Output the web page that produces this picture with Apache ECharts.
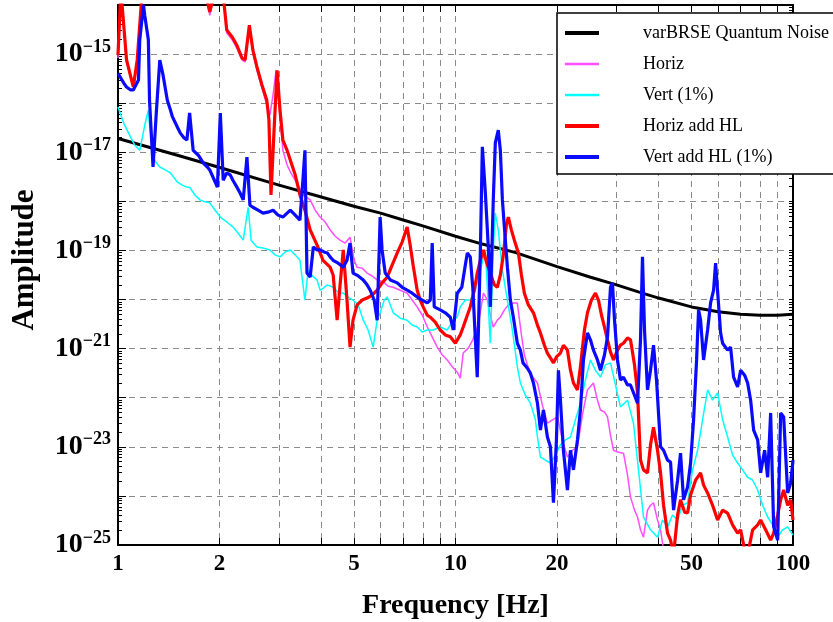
<!DOCTYPE html>
<html>
<head>
<meta charset="utf-8">
<script src="https://cdn.jsdelivr.net/npm/echarts@6/dist/echarts.min.js"></script>
<style>
    html, body { margin: 0; padding: 0; background: #fff; }
    #chart { width: 833px; height: 622px; }
</style>
</head>
<body>
<div id="chart"></div>
<script>
// each point is [frequency in Hz, log10 of amplitude]
const quantumNoise = [[1,-16.72],[1.5,-17.06],[2,-17.31],[3,-17.67],[4,-17.91],[5,-18.10],[6,-18.24],[7,-18.38],[8,-18.50],[10,-18.71],[12,-18.87],[15,-19.04],[20,-19.33],[25,-19.54],[30,-19.70],[35,-19.85],[40,-19.97],[50,-20.15],[60,-20.25],[70,-20.30],[80,-20.32],[90,-20.32],[100,-20.30]]

const horiz = [[1.00,-15.08],[1.02,-13.7],[1.06,-15.16],[1.11,-15.63],[1.14,-15.16],[1.18,-13.7],[1.48,-13.7],[1.81,-13.7],[1.87,-14.21],[1.94,-13.7],[2.06,-13.96],[2.10,-14.57],[2.18,-14.71],[2.25,-14.88],[2.33,-15.12],[2.38,-15.16],[2.45,-14.47],[2.51,-14.96],[2.58,-15.33],[2.67,-15.69],[2.76,-16.04],[2.82,-16.24],[2.88,-15.83],[2.94,-15.33],[3.00,-16.04],[3.08,-16.96],[3.17,-17.26],[3.24,-17.40],[3.39,-17.63],[3.54,-17.87],[3.71,-17.97],[3.84,-18.18],[3.97,-18.32],[4.11,-18.42],[4.25,-18.58],[4.40,-18.71],[4.55,-18.79],[4.71,-18.85],[4.87,-18.73],[5.01,-19.20],[5.11,-19.34],[5.29,-19.36],[5.47,-19.46],[5.66,-19.52],[5.86,-19.60],[6.11,-19.64],[6.32,-19.73],[6.54,-19.75],[6.86,-19.81],[7.19,-19.87],[7.44,-20.01],[7.70,-20.15],[7.97,-20.32],[8.25,-20.56],[8.53,-20.76],[8.83,-20.97],[9.14,-21.13],[9.45,-21.23],[9.78,-21.37],[10.12,-21.48],[10.33,-21.60],[10.54,-21.09],[10.91,-20.99],[11.25,-20.82],[11.68,-20.52],[12.10,-19.87],[12.43,-20.01],[12.68,-20.32],[12.94,-20.56],[13.30,-20.42],[13.58,-20.36],[13.96,-20.21],[14.34,-20.11],[14.84,-20.07],[15.25,-20.07],[15.68,-20.72],[16.00,-21.13],[16.33,-21.33],[16.78,-21.54],[17.49,-21.70],[18.09,-22.15],[18.72,-22.52],[19.37,-22.45],[20.05,-22.39],[20.74,-22.86],[21.46,-23.21],[22.21,-23.07],[22.98,-23.00],[23.77,-22.35],[24.60,-21.84],[25.63,-21.70],[26.34,-22.05],[26.89,-22.25],[27.63,-22.29],[28.21,-22.39],[28.79,-22.76],[29.39,-23.07],[30.41,-23.11],[31.46,-23.13],[32.33,-23.57],[33.00,-24.02],[33.91,-24.29],[34.62,-24.43],[35.33,-24.69],[36.06,-24.84],[37.06,-24.29],[37.83,-24.19],[38.61,-24.14],[39.68,-24.49],[40.51,-24.69],[41.35,-25.10],[42.49,-25.51],[46.43,-25.6],[53.23,-25.7],[74.90,-25.8],[100,-25.8]]

const vert = [[1.00,-16.08],[1.04,-16.41],[1.09,-16.69],[1.12,-16.85],[1.16,-16.96],[1.20,-16.45],[1.23,-16.14],[1.24,-16.45],[1.27,-17.10],[1.30,-17.22],[1.33,-17.30],[1.38,-17.36],[1.43,-17.42],[1.50,-17.61],[1.55,-17.67],[1.60,-17.71],[1.63,-17.71],[1.69,-17.87],[1.75,-17.97],[1.81,-18.01],[1.87,-18.03],[1.94,-18.18],[2.01,-18.32],[2.10,-18.42],[2.19,-18.52],[2.27,-18.65],[2.35,-18.79],[2.43,-18.12],[2.48,-18.79],[2.58,-18.93],[2.69,-18.95],[2.82,-18.99],[2.92,-19.09],[3.02,-19.13],[3.13,-19.03],[3.24,-18.99],[3.35,-19.09],[3.46,-19.20],[3.58,-20.01],[3.66,-19.40],[3.79,-19.54],[3.89,-19.60],[3.97,-19.81],[4.05,-19.77],[4.17,-19.70],[4.34,-19.75],[4.49,-19.85],[4.65,-19.87],[4.81,-19.95],[4.97,-20.01],[5.15,-20.11],[5.33,-20.42],[5.51,-20.62],[5.70,-20.97],[5.86,-20.42],[5.98,-20.27],[6.15,-20.01],[6.28,-19.95],[6.54,-20.27],[6.86,-20.38],[7.19,-20.42],[7.44,-20.52],[7.70,-20.56],[7.97,-20.66],[8.25,-20.62],[8.59,-20.62],[9.01,-20.56],[9.45,-20.62],[9.85,-20.42],[10.12,-20.36],[10.33,-20.15],[10.69,-20.01],[11.06,-20.01],[11.44,-19.81],[11.85,-19.40],[12.26,-18.99],[12.68,-20.89],[12.94,-18.99],[13.12,-18.24],[13.39,-18.58],[13.77,-19.40],[14.25,-20.01],[14.74,-20.62],[15.25,-21.37],[15.57,-21.70],[16.11,-21.95],[16.67,-22.11],[17.25,-22.45],[17.49,-22.80],[17.85,-23.21],[18.47,-23.27],[19.11,-23.33],[19.77,-23.17],[20.46,-22.96],[21.17,-22.86],[21.91,-22.80],[22.67,-22.45],[23.45,-22.11],[24.26,-21.64],[25.11,-21.23],[25.98,-21.44],[26.89,-21.58],[27.82,-21.33],[28.79,-21.29],[29.79,-21.74],[30.82,-22.19],[32.33,-22.05],[33.68,-22.52],[34.85,-23.47],[36.06,-24.43],[37.83,-24.69],[39.68,-24.84],[41.06,-24.49],[42.49,-24.63],[43.96,-24.39],[45.50,-24.49],[47.07,-24.19],[48.71,-24.14],[50.40,-23.47],[52.16,-23.07],[53.96,-22.45],[55.84,-21.84],[57.77,-22.05],[59.78,-21.90],[61.86,-22.45],[64.01,-22.80],[66.22,-23.17],[68.53,-23.33],[70.91,-23.47],[73.38,-23.62],[75.93,-23.68],[78.57,-23.88],[81.29,-24.19],[84.12,-24.43],[87.04,-24.59],[90.07,-24.84],[93.19,-24.69],[96.43,-24.63],[100,-24.80]]

const horizHL = [[1.00,-15.02],[1.02,-13.7],[1.06,-15.12],[1.11,-15.67],[1.14,-15.12],[1.18,-13.7],[1.48,-13.7],[1.81,-13.7],[1.87,-14.14],[1.94,-13.7],[2.06,-13.95],[2.10,-14.51],[2.18,-14.65],[2.25,-14.82],[2.33,-15.08],[2.38,-15.12],[2.45,-14.41],[2.51,-14.92],[2.58,-15.26],[2.67,-15.63],[2.76,-15.94],[2.80,-16.34],[2.84,-17.87],[2.90,-16.55],[2.96,-15.33],[3.02,-16.14],[3.08,-16.75],[3.17,-16.96],[3.24,-17.16],[3.35,-17.46],[3.46,-17.87],[3.58,-18.18],[3.71,-18.58],[3.89,-18.89],[4.05,-19.20],[4.25,-19.34],[4.34,-19.50],[4.46,-20.42],[4.55,-19.70],[4.65,-18.99],[4.77,-20.01],[4.87,-20.97],[4.97,-20.42],[5.11,-20.11],[5.29,-20.01],[5.47,-19.97],[5.66,-19.91],[5.86,-19.81],[6.06,-19.66],[6.28,-19.54],[6.49,-19.30],[6.72,-19.05],[6.95,-18.83],[7.19,-18.52],[7.34,-18.89],[7.49,-19.30],[7.70,-19.81],[7.86,-20.01],[8.02,-20.15],[8.25,-20.32],[8.42,-20.36],[8.71,-20.46],[9.01,-20.62],[9.33,-20.72],[9.65,-20.76],[9.99,-20.89],[10.33,-20.72],[10.54,-20.56],[10.84,-20.32],[11.06,-20.15],[11.37,-19.81],[11.60,-19.46],[11.85,-19.20],[12.10,-18.99],[12.35,-19.24],[12.68,-19.46],[13.03,-19.70],[13.30,-19.75],[13.58,-19.50],[13.86,-19.09],[14.15,-18.48],[14.34,-18.32],[14.64,-18.58],[14.94,-18.79],[15.36,-19.05],[15.68,-19.50],[16.00,-19.87],[16.44,-20.11],[17.02,-20.27],[17.49,-20.52],[17.85,-20.68],[18.34,-20.93],[18.72,-21.09],[19.11,-21.19],[19.51,-21.29],[19.91,-21.17],[20.46,-21.09],[20.88,-20.93],[21.46,-21.03],[21.91,-21.44],[22.36,-21.70],[22.98,-21.84],[23.45,-21.37],[24.10,-20.62],[24.60,-20.27],[25.28,-20.01],[25.98,-19.87],[26.52,-20.01],[27.08,-20.32],[27.45,-20.48],[28.21,-20.82],[28.79,-21.07],[29.39,-21.23],[30.20,-21.03],[30.82,-20.93],[31.46,-20.89],[32.33,-20.78],[33.00,-20.82],[33.91,-21.33],[34.62,-21.90],[35.33,-23.27],[36.06,-23.47],[37.06,-23.53],[37.83,-22.96],[38.61,-22.60],[39.68,-23.07],[40.51,-23.53],[41.35,-24.19],[42.49,-24.76],[43.37,-24.90],[44.27,-25.2],[45.50,-24.39],[46.43,-24.08],[47.72,-24.33],[48.71,-24.35],[49.72,-23.98],[51.45,-23.68],[53.23,-23.53],[54.33,-23.78],[55.84,-23.94],[57.77,-24.19],[59.78,-24.49],[61.86,-24.29],[64.01,-24.35],[66.22,-24.59],[68.53,-24.76],[69.95,-24.69],[71.89,-25.1],[73.38,-25.2],[75.93,-24.69],[78.57,-24.59],[80.19,-24.49],[82.97,-24.69],[85.86,-24.90],[87.64,-24.76],[90.07,-24.39],[91.93,-24.08],[93.83,-23.88],[96.43,-24.19],[98.42,-24.08],[100,-24.49]]

const vertHL = [[1.00,-15.39],[1.01,-15.43],[1.04,-15.59],[1.06,-15.67],[1.09,-15.73],[1.11,-15.73],[1.13,-15.63],[1.15,-15.53],[1.16,-14.71],[1.19,-14.00],[1.20,-14.21],[1.23,-14.71],[1.24,-15.94],[1.27,-17.30],[1.30,-16.14],[1.33,-15.12],[1.36,-15.43],[1.40,-15.94],[1.43,-16.14],[1.45,-16.28],[1.50,-16.49],[1.53,-16.61],[1.57,-16.71],[1.60,-16.75],[1.63,-16.20],[1.67,-16.96],[1.73,-17.06],[1.79,-17.22],[1.84,-17.30],[1.87,-17.36],[1.93,-17.57],[1.97,-17.71],[2.01,-16.20],[2.05,-17.57],[2.10,-17.42],[2.15,-17.46],[2.19,-17.57],[2.25,-17.71],[2.30,-17.83],[2.35,-17.97],[2.41,-17.10],[2.46,-18.08],[2.51,-18.12],[2.60,-18.18],[2.69,-18.24],[2.78,-18.22],[2.88,-18.18],[2.98,-18.28],[3.08,-18.32],[3.17,-18.24],[3.24,-18.18],[3.35,-18.28],[3.46,-18.38],[3.53,-17.57],[3.58,-16.96],[3.63,-19.46],[3.71,-19.54],[3.79,-18.93],[3.89,-18.99],[3.97,-18.99],[4.08,-19.03],[4.17,-19.05],[4.25,-19.13],[4.34,-19.20],[4.49,-19.26],[4.65,-19.34],[4.77,-19.20],[4.87,-18.85],[4.97,-19.46],[5.15,-19.52],[5.33,-19.60],[5.47,-19.70],[5.59,-19.81],[5.74,-20.01],[5.86,-20.42],[5.98,-18.32],[6.06,-18.99],[6.19,-19.46],[6.41,-19.60],[6.72,-19.66],[6.95,-19.75],[7.19,-19.81],[7.44,-19.87],[7.70,-19.95],[7.97,-20.01],[8.25,-20.07],[8.42,-20.01],[8.53,-18.85],[8.65,-20.15],[9.01,-20.21],[9.33,-20.27],[9.65,-20.36],[9.85,-20.62],[10.12,-19.87],[10.44,-19.75],[10.69,-19.30],[10.84,-19.05],[11.06,-19.13],[11.25,-19.75],[11.60,-21.58],[11.85,-18.99],[12.01,-16.89],[12.26,-17.83],[12.52,-18.99],[12.68,-20.15],[12.94,-17.97],[13.12,-16.81],[13.39,-16.55],[13.58,-16.96],[13.77,-17.97],[14.05,-18.79],[14.25,-19.34],[14.54,-20.01],[14.84,-20.36],[15.25,-20.89],[15.57,-21.03],[15.85,-21.29],[16.33,-21.40],[16.67,-21.50],[17.02,-21.70],[17.49,-22.11],[17.85,-22.66],[18.22,-22.25],[18.72,-22.80],[19.11,-23.00],[19.51,-24.14],[19.91,-22.86],[20.18,-21.44],[20.46,-22.05],[20.88,-23.07],[21.46,-23.88],[21.91,-23.07],[22.36,-23.47],[22.98,-22.86],[23.45,-22.25],[23.94,-21.23],[24.60,-20.68],[25.11,-20.82],[25.63,-21.03],[26.34,-21.23],[26.89,-21.44],[27.63,-21.13],[28.21,-20.76],[28.79,-19.75],[29.18,-19.66],[29.59,-20.42],[30.20,-21.23],[30.82,-21.64],[31.46,-21.58],[32.33,-21.74],[33.00,-21.74],[33.91,-21.95],[34.62,-22.11],[35.33,-20.82],[35.81,-19.13],[36.31,-20.62],[37.06,-21.84],[37.83,-21.44],[38.61,-20.93],[39.41,-21.64],[40.51,-23.00],[41.35,-23.07],[42.49,-23.27],[43.37,-23.31],[44.27,-24.29],[45.50,-23.68],[46.43,-23.13],[47.39,-24.08],[48.71,-23.82],[49.72,-23.33],[50.75,-22.45],[51.80,-21.23],[52.51,-20.21],[53.23,-20.42],[54.33,-21.23],[55.84,-20.62],[56.99,-20.07],[58.17,-19.81],[58.97,-19.26],[59.78,-19.30],[61.02,-20.68],[61.86,-20.89],[64.01,-21.03],[65.33,-20.97],[66.68,-21.58],[68.53,-21.78],[69.95,-21.44],[71.89,-21.54],[73.38,-21.70],[74.90,-22.05],[76.45,-22.66],[78.57,-22.86],[80.19,-23.53],[82.41,-23.07],[84.12,-23.62],[85.86,-22.31],[87.64,-24.63],[90.07,-24.90],[91.93,-22.31],[93.83,-22.39],[96.43,-23.94],[98.42,-23.74],[100,-23.27]]

const seriesNames = ['varBRSE Quantum Noise', 'Horiz', 'Vert (1%)', 'Horiz add HL', 'Vert add HL (1%)']
const freqLabels = [1, 2, 5, 10, 20, 50, 100]
const freqGrid = [1, 2, 3, 4, 5, 6, 7, 8, 9, 10, 20, 30, 40, 50, 60, 70, 80, 90, 100]
const ampMin = -25
const ampMax = -14

const serif = '"Liberation Serif", "Times New Roman", serif'
const lg = v => Math.log10(v)
const toPoints = arr => arr.map(p => [lg(p[0]), p[1]])

// small log ticks between decades
const minorTicks = []
for (let n = ampMin; n < ampMax; n++) {
    for (let k = 2; k <= 9; k++) minorTicks.push(n + lg(k))
}
const decadeTicks = []
for (let n = ampMin; n <= ampMax; n++) decadeTicks.push(n)

function line(name, data, color, width) {
    return {
        name: name,
        type: 'line',
        data: toPoints(data),
        symbol: 'none',
        showSymbol: false,
        silent: true,
        lineStyle: { color: color, width: width },
        itemStyle: { color: color }
    }
}

const dashed = { color: '#8a8a8a', width: 1, type: [6, 5] }
const legendWidths = [4, 2.5, 2.5, 4, 4]

const chart = echarts.init(document.getElementById('chart'))
chart.setOption({
    animation: false,
    backgroundColor: '#fff',
    grid: { left: 118, top: 5, width: 675, height: 540, outerBoundsMode: 'none' },
    legend: {
        orient: 'vertical',
        left: 557,
        top: 13,
        itemWidth: 34,
        itemHeight: 18,
        itemGap: 13,
        padding: [11, 40, 8, 6],
        backgroundColor: '#fff',
        borderColor: '#000',
        borderWidth: 1.5,
        selectedMode: false,
        itemStyle: { opacity: 0 },
        textStyle: { fontFamily: serif, fontSize: 18, color: '#000', padding: [0, 0, 0, 39] },
        data: seriesNames.map((name, i) => ({ name: name, lineStyle: { width: legendWidths[i] } }))
    },
    xAxis: [{
        type: 'value',
        min: 0,
        max: 2,
        position: 'bottom',
        axisLine: { show: true, onZero: false, lineStyle: { color: '#000', width: 2 } },
        axisTick: { show: true, inside: true, length: 7, customValues: freqGrid.map(lg), lineStyle: { color: '#000' } },
        axisLabel: {
            customValues: freqLabels.map(lg),
            formatter: v => String(Math.round(Math.pow(10, v))),
            fontFamily: serif, fontWeight: 'bold', fontSize: 23, color: '#000', margin: 8
        },
        splitLine: { show: true, lineStyle: dashed },
        name: 'Frequency [Hz]',
        nameLocation: 'middle',
        nameGap: 47,
        nameTextStyle: { fontFamily: serif, fontWeight: 'bold', fontSize: 28, color: '#000' }
    }, {
        type: 'value',
        min: 0,
        max: 2,
        position: 'top',
        axisLine: { show: true, onZero: false, lineStyle: { color: '#000', width: 2 } },
        axisTick: { show: true, inside: true, length: 7, customValues: freqGrid.map(lg), lineStyle: { color: '#000' } },
        axisLabel: { show: false },
        splitLine: { show: false }
    }],
    yAxis: [{
        type: 'value',
        min: ampMin,
        max: ampMax,
        interval: 1,
        position: 'left',
        axisLine: { show: true, onZero: false, lineStyle: { color: '#000', width: 2 } },
        axisTick: { show: true, inside: true, length: 8, lineStyle: { color: '#000' } },
        axisLabel: {
            formatter: v => {
                const n = Math.round(v)
                return n % 2 !== 0 ? '{b|10}{s|\u2212' + Math.abs(n) + '}' : ''
            },
            margin: 7,
            rich: {
                b: { fontFamily: serif, fontWeight: 'bold', fontSize: 28, lineHeight: 32, color: '#000' },
                s: { fontFamily: serif, fontWeight: 'bold', fontSize: 18, verticalAlign: 'top', color: '#000' }
            }
        },
        splitLine: { show: true, lineStyle: dashed },
        name: 'Amplitude',
        nameLocation: 'middle',
        nameGap: 78,
        nameRotate: 90,
        nameTextStyle: { fontFamily: serif, fontWeight: 'bold', fontSize: 31, color: '#000', padding: [0, 0, 0, 30] }
    }, {
        type: 'value',
        min: ampMin,
        max: ampMax,
        position: 'left',
        axisLine: { show: false },
        axisTick: { show: true, inside: true, length: 4, customValues: minorTicks, lineStyle: { color: '#000' } },
        axisLabel: { show: false },
        splitLine: { show: false }
    }, {
        type: 'value',
        min: ampMin,
        max: ampMax,
        position: 'right',
        axisLine: { show: true, onZero: false, lineStyle: { color: '#000', width: 2 } },
        axisTick: { show: true, inside: true, length: 4, customValues: minorTicks.concat(decadeTicks), lineStyle: { color: '#000' } },
        axisLabel: { show: false },
        splitLine: { show: false }
    }],
    series: [
        line(seriesNames[0], quantumNoise, '#000000', 3),
        line(seriesNames[1], horiz, '#ff4dff', 1.5),
        line(seriesNames[2], vert, '#00ffff', 1.5),
        line(seriesNames[3], horizHL, '#ff0000', 3.2),
        line(seriesNames[4], vertHL, '#0a0aff', 3.2)
    ]
})
</script>
</body>
</html>
